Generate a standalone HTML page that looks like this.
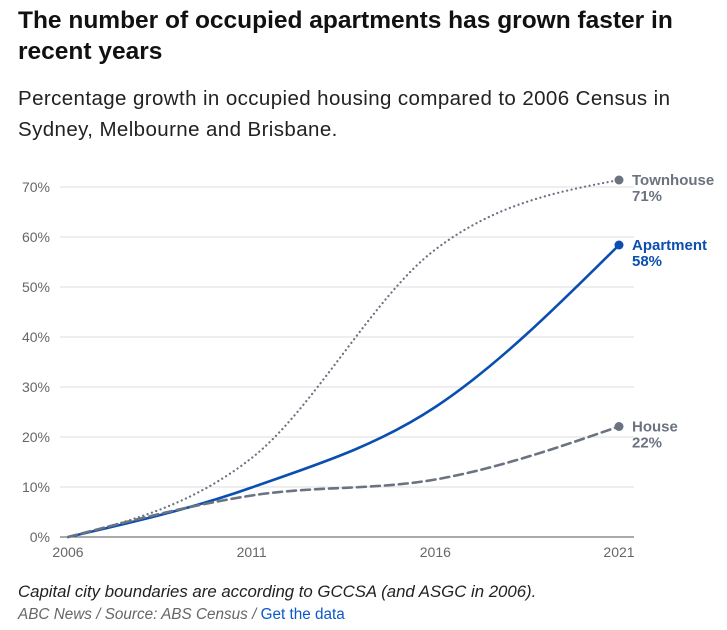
<!DOCTYPE html>
<html><head><meta charset="utf-8"><style>
body{margin:0;width:727px;height:630px;background:#fff;font-family:"Liberation Sans",sans-serif;overflow:hidden;position:relative}
h1{position:absolute;left:18px;top:5px;margin:0;font-size:24.5px;line-height:31px;font-weight:bold;color:#111;width:690px;letter-spacing:0px}
.sub{position:absolute;left:18px;top:83px;font-size:20.5px;line-height:31px;color:#222;width:690px;letter-spacing:0.4px}
.note{position:absolute;left:18px;top:582px;font-size:16.8px;font-style:italic;color:#222}
.src{position:absolute;left:18px;top:606px;font-size:15.3px;font-style:italic;color:#666}
.src a{color:#0a58ca;font-style:normal;text-decoration:none}
svg{position:absolute;left:0;top:0}
</style></head><body>
<h1>The number of occupied apartments has grown faster in recent years</h1>
<div class="sub">Percentage growth in occupied housing compared to 2006 Census in Sydney, Melbourne and Brisbane.</div>
<svg id="chart" width="727" height="630"></svg>
<div class="note">Capital city boundaries are according to GCCSA (and ASGC in 2006).</div>
<div class="src">ABC News / Source: ABS Census / <a>Get the data</a></div>
<script>
const years=[2006,2011,2016,2021];
const townhouse=[0,15.8,57.5,71.4];
const apartment=[0,9.9,26,58.4];
const house=[0,8.3,11.5,22.1];
const yTicks=[0,10,20,30,40,50,60,70];
const xTicks=[2006,2011,2016,2021];
const seriesNames=["Townhouse","Apartment","House"];
const labelValues=["71%","58%","22%"];

const NS="http://www.w3.org/2000/svg";
const svg=document.getElementById('chart');
const x=v=>68+(v-2006)/15*551;
const y=v=>537-v*5;
function mk(t,a,p){const e=document.createElementNS(NS,t);for(const k in a)e.setAttribute(k,a[k]);(p||svg).appendChild(e);return e;}
yTicks.forEach(t=>{
  const l=mk('line',{x1:60,x2:634,y1:y(t),y2:y(t),stroke:t?'#ddd':'#555','stroke-width':1});
  
  
  const tx=mk('text',{x:50,y:y(t)+5,'text-anchor':'end','font-size':14,fill:'#666','font-family':'Liberation Sans'});
  tx.textContent=t+'%';
  
  
});
xTicks.forEach(t=>{
  const tx=mk('text',{x:x(t),y:557,'text-anchor':'middle','font-size':14,fill:'#666','font-family':'Liberation Sans'});
  tx.textContent=t;
  
  
});
function monotone(xs,ys){
  const n=xs.length,d=[],m=[];
  for(let i=0;i<n-1;i++)d.push((ys[i+1]-ys[i])/(xs[i+1]-xs[i]));
  for(let i=1;i<n-1;i++){const s0=d[i-1],s1=d[i],h0=xs[i]-xs[i-1],h1=xs[i+1]-xs[i];const p=(s0*h1+s1*h0)/(h0+h1);m[i]=(Math.sign(s0)+Math.sign(s1))*Math.min(Math.abs(s0),Math.abs(s1),0.5*Math.abs(p))||0;}
  m[0]=(3*d[0]-m[1])/2;
  m[n-1]=(3*d[n-2]-m[n-2])/2;
  let s=`M${xs[0]},${ys[0]}`;
  for(let i=0;i<n-1;i++){const h=(xs[i+1]-xs[i])/3;s+=`C${xs[i]+h},${ys[i]+m[i]*h} ${xs[i+1]-h},${ys[i+1]-m[i+1]*h} ${xs[i+1]},${ys[i+1]}`;}
  return s;
}
const cfg=[[townhouse,'#6b7280','0.1 4.5',2.2,'townhouse'],[apartment,'#0a4fb0','',2.6,'apartment'],[house,'#6b7280','9 5',2.6,'house']];
cfg.forEach((c,i)=>{
  const xs=years.map(x),ys=c[0].map(y);
  const p=mk('path',{d:monotone(xs,ys),fill:'none',stroke:c[1],'stroke-width':c[3],'stroke-dasharray':c[2],'stroke-linecap':'round'});
  
  
  const last=c[0][c[0].length-1];
  const dot=mk('circle',{cx:x(2021),cy:y(last),r:4.5,fill:c[1]});
  
  
  const t1=mk('text',{x:632,y:y(last)+5,'font-size':15,'font-weight':'bold',fill:c[1],'font-family':'Liberation Sans'});
  t1.textContent=seriesNames[i];
  
  
  const t2=mk('text',{x:632,y:y(last)+21,'font-size':15,'font-weight':'bold',fill:c[1],'font-family':'Liberation Sans'});
  t2.textContent=labelValues[i];
  
  
});
</script>
</body></html>
